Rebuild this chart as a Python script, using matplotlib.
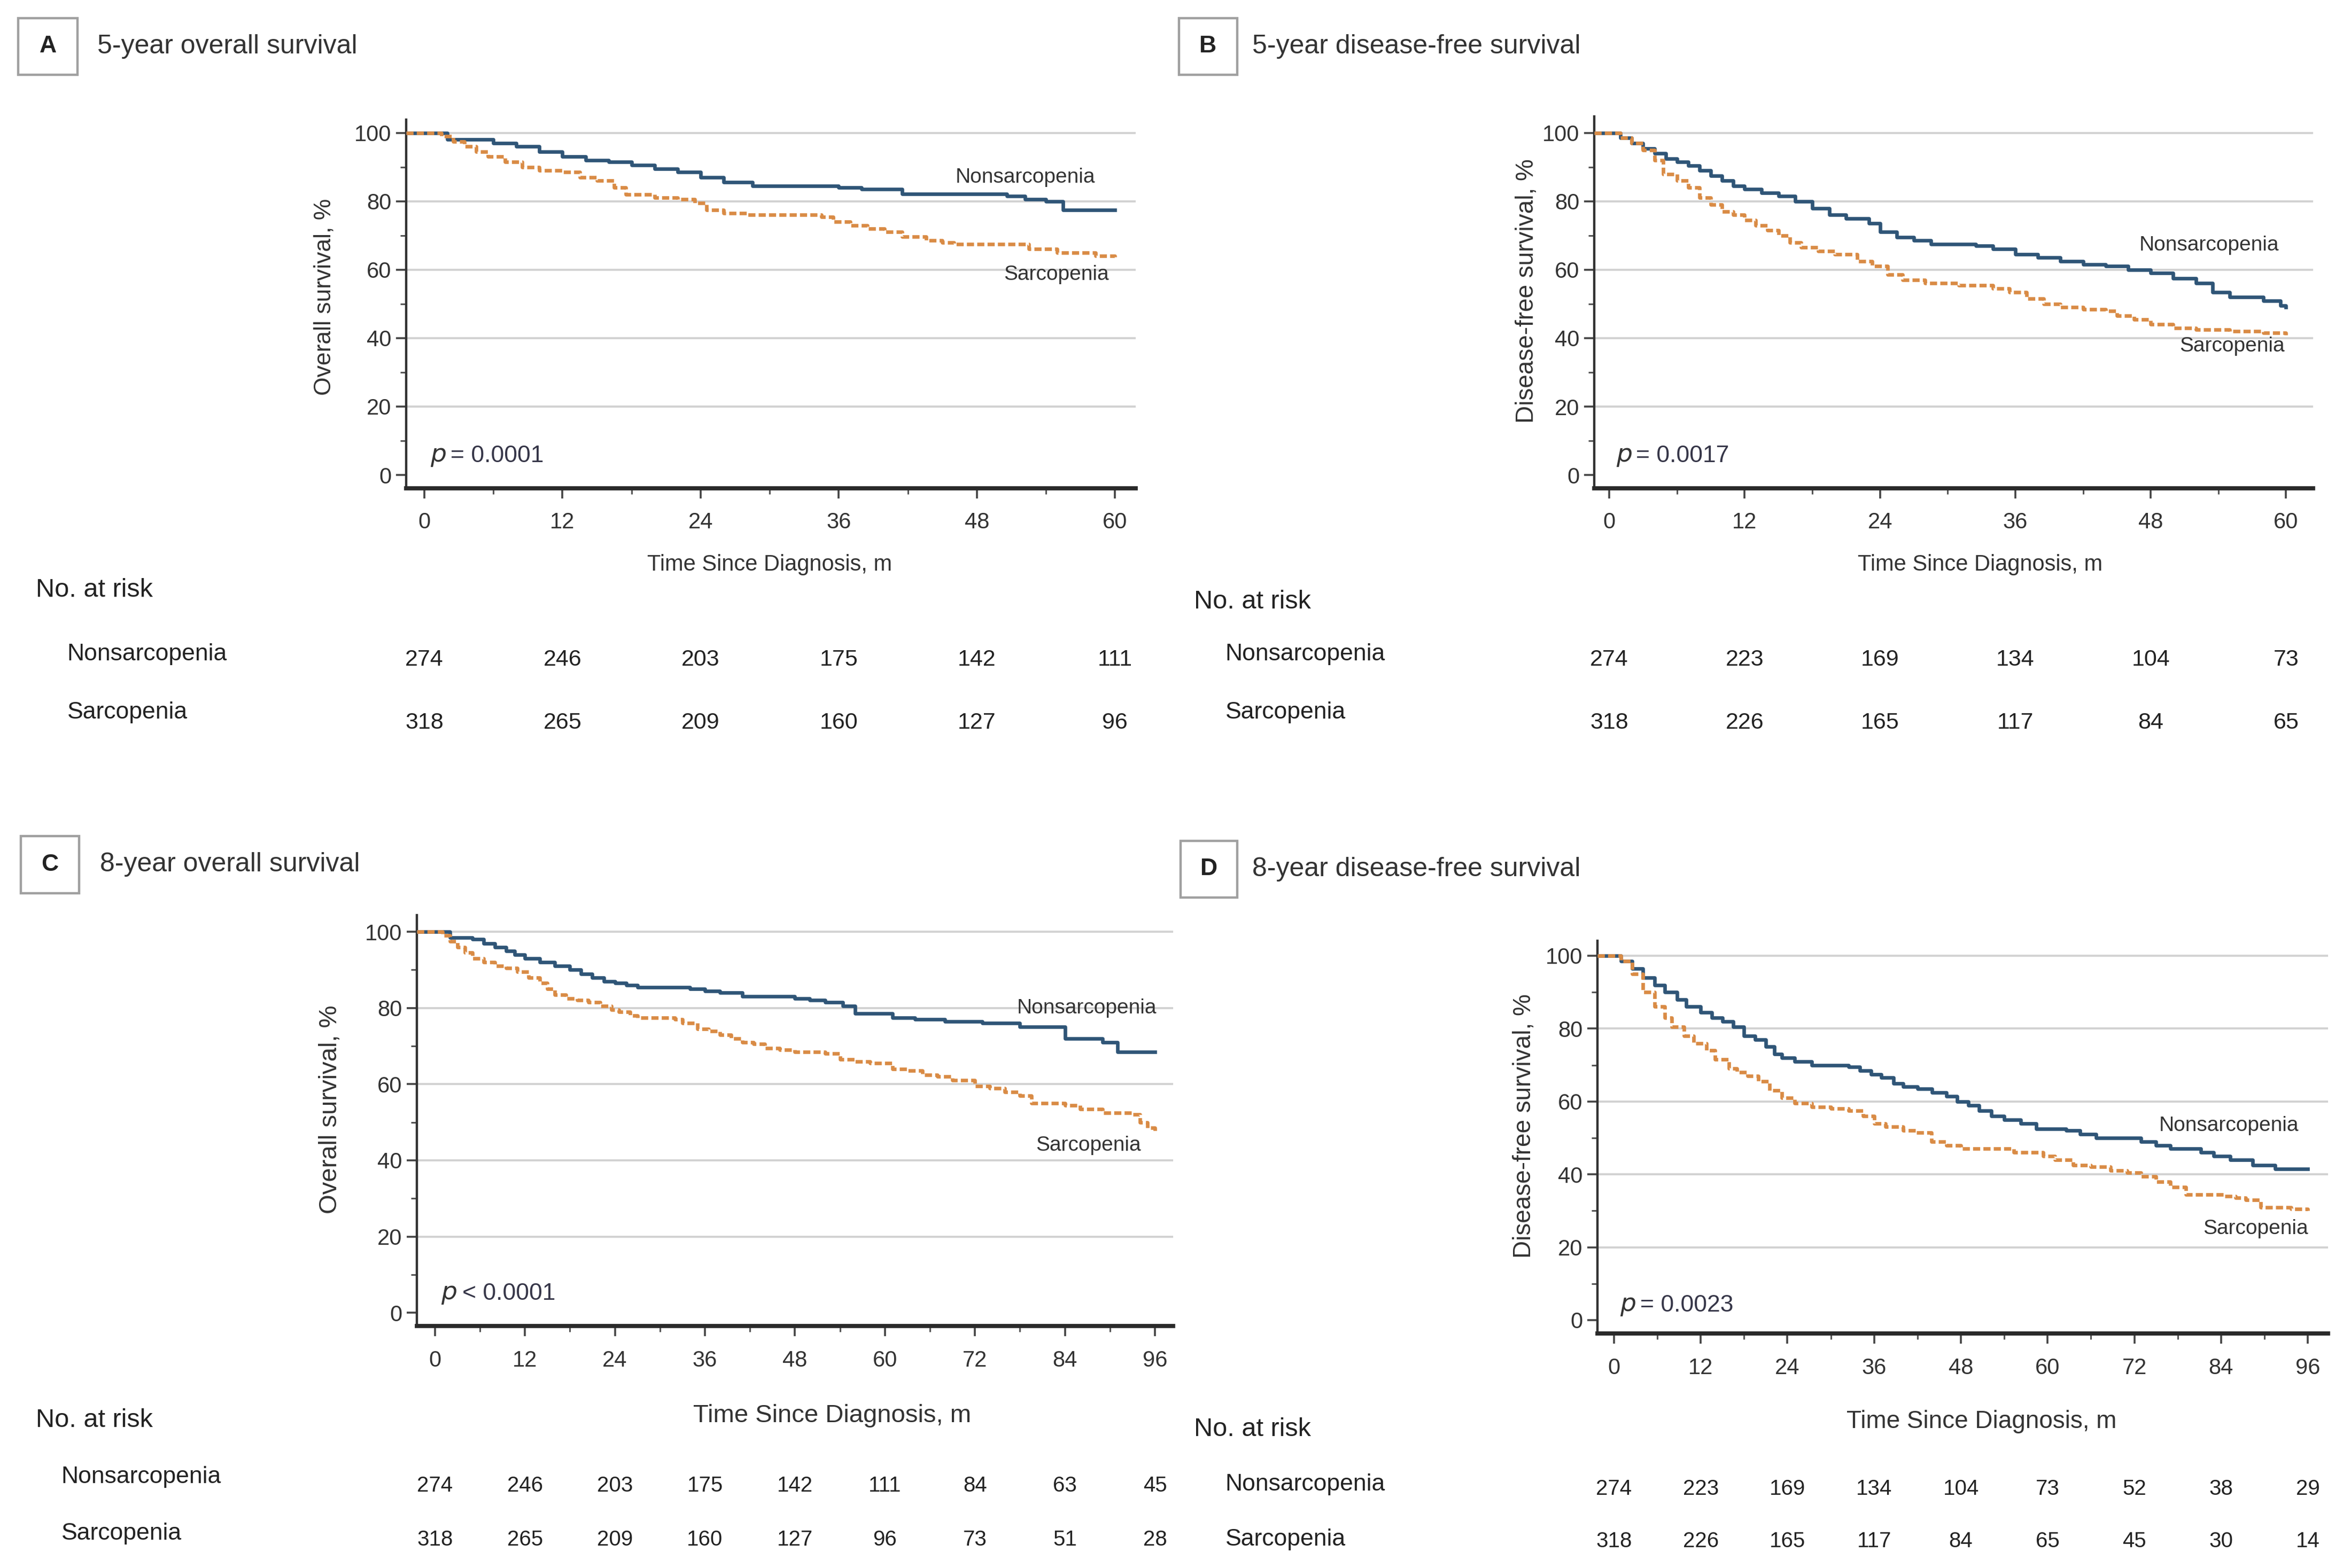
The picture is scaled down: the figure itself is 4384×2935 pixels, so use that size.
import matplotlib
matplotlib.use("Agg")
import matplotlib.pyplot as plt
from matplotlib.patches import Rectangle
from matplotlib.ticker import MultipleLocator
from matplotlib.transforms import blended_transform_factory

plt.rcParams['font.family'] = ['Liberation Sans', 'DejaVu Sans']

# ---- data (time in months, survival in %) ----
groups = ['Nonsarcopenia', 'Sarcopenia']

# A: 5-year overall survival
a_non_t = [0, 2, 4.3, 6, 8, 10, 12, 14, 16, 18, 20, 22, 24, 26, 28.5, 36, 38, 41.5, 50.6, 52.2, 54, 55.5, 60]
a_non_s = [100, 98, 98, 97, 96, 94.5, 93, 92, 91.5, 90.5, 89.5, 88.5, 87, 85.5, 84.5, 84, 83.5, 82.2, 81.5, 80.6, 80, 77.5, 77.5]
a_sar_t = [0, 1.5, 2.5, 3.5, 4.5, 5.5, 7, 8.5, 10, 12, 13.5, 15, 16.5, 17.5, 20, 22, 23.5, 24.5, 26, 28, 34.5,
           35.5, 37, 38.5, 40, 41.5, 43.6, 45, 46, 52.5, 55, 58.3, 60]
a_sar_s = [100, 99, 97.5, 96, 94.5, 93, 91.5, 90, 89, 88.5, 87, 86, 84, 82, 81, 80.5, 79.5, 77.5, 76.5, 76, 75.5,
           74, 73, 72, 71, 69.7, 68.6, 68, 67.5, 66, 65, 64, 63.7]
a_risk_non = [274, 246, 203, 175, 142, 111]
a_risk_sar = [318, 265, 209, 160, 127, 96]

# B: 5-year disease-free survival
b_non_t = [0, 1, 2, 3, 4, 5, 6, 7, 8, 9, 10, 11, 12, 13.5, 15, 16.5, 18, 19.5, 21, 23, 24, 25.5, 27, 28.5, 32.5,
           34, 36, 38, 40, 42, 44, 46, 48, 50, 52, 53.5, 55, 58, 59.5, 60]
b_non_s = [100, 98.5, 97, 95.5, 94, 92.5, 91.5, 90.5, 89, 87.5, 86, 84.5, 83.5, 82.5, 81.5, 80, 78, 76, 75, 73.5,
           71, 69.5, 68.5, 67.5, 67, 66, 64.5, 63.5, 62.5, 61.5, 61, 60, 59, 57.5, 56, 53.5, 52, 51, 49.5, 49]
b_sar_t = [0, 1, 2, 3, 4, 4.8, 6, 7, 8, 9, 10, 11, 12, 13, 14, 15, 16, 17, 18.5, 20, 22, 23.3, 24.7, 26, 28, 31,
           34, 35.5, 37, 38.5, 40, 42, 44, 45, 46.5, 48, 50, 52, 55, 58, 60]
b_sar_s = [100, 98.5, 97, 95, 92, 88, 86, 84, 81, 79, 77, 76, 74.5, 73, 71.5, 70, 68, 66.5, 65.5, 64.5, 62.5, 61,
           58.5, 57, 56, 55.5, 54.5, 53.5, 51.5, 50, 49, 48.5, 48, 46.5, 45.5, 44, 43, 42.5, 42, 41.5, 41]
b_risk_non = [274, 223, 169, 134, 104, 73]
b_risk_sar = [318, 226, 165, 117, 84, 65]

# C: 8-year overall survival
c_non_t = [0, 2, 5, 6.5, 8, 9.5, 10.6, 12, 14, 16, 18, 19.5, 21, 22.5, 24, 25.5, 27, 34, 36, 38, 41, 48, 50, 52,
           54.4, 56, 61, 64, 68, 73, 78, 84, 89, 91, 96]
c_non_s = [100, 98.5, 98, 97, 96, 95, 94, 93, 92, 91, 90, 89, 88, 87, 86.5, 86, 85.5, 85, 84.5, 84, 83, 82.5, 82,
           81.5, 80.5, 78.5, 77.5, 77, 76.5, 76, 75, 72, 71, 68.4, 68.4]
c_sar_t = [0, 1, 2, 3, 4, 5, 6.5, 8, 9.5, 11, 12.5, 14, 15, 16, 17.5, 19, 20.5, 22, 23.5, 24.5, 26, 27, 32, 33, 35,
           36.5, 38, 39.5, 41, 42.5, 44, 46, 48, 52, 54, 56, 58, 61, 63, 65, 67, 69, 72, 74, 76, 78, 79.5, 84,
           86, 89, 93, 94, 95, 96]
c_sar_s = [100, 99, 97.5, 96, 94.5, 93, 92, 91, 90.5, 89.5, 88, 86.5, 85, 83.5, 82.5, 82, 81.5, 80.5, 79.5, 79, 78,
           77.5, 77, 76, 74.5, 74, 73, 72, 71, 70.5, 69.5, 69, 68.5, 68, 66.5, 66, 65.5, 64, 63.5, 62.5, 62, 61,
           59.5, 59, 58, 57, 55, 54.5, 53.5, 52.5, 52, 50, 48.5, 47]
c_risk_non = [274, 246, 203, 175, 142, 111, 84, 63, 45]
c_risk_sar = [318, 265, 209, 160, 127, 96, 73, 51, 28]

# D: 8-year disease-free survival
d_non_t = [0, 1, 2.5, 4, 5.6, 7, 8.7, 10, 12, 13.5, 15, 16.5, 18, 19.5, 21, 22.2, 23.2, 25, 27.4, 32.5, 34, 35.6,
           37, 38.7, 40, 42, 44, 46, 47.5, 49, 50.5, 52.2, 54, 56.3, 58.4, 62.6, 64.5, 66.7, 72.9, 75, 77, 81.2,
           83, 85.3, 88.4, 91.5, 96]
d_non_s = [100, 98.5, 96.5, 94, 92, 90, 88, 86, 84.5, 83, 82, 80.5, 78, 77, 75, 73, 72, 71, 70, 69.5, 68.5, 67.5,
           66.5, 65, 64, 63.5, 62.5, 61.5, 60, 59, 57.5, 56, 55, 54, 52.5, 52, 51, 50, 49, 48, 47, 46, 45, 44,
           42.5, 41.5, 41.5]
d_sar_t = [0, 1, 2.5, 4, 5.6, 7, 8, 9.7, 11, 12.8, 14, 15.9, 17, 18.5, 20, 21.5, 23.2, 25, 27.4, 30, 32.5, 34.5,
           36, 37.6, 40, 41.8, 43.9, 46, 48, 55.3, 57, 59.4, 61, 63.5, 66, 68.7, 71, 72.9, 75, 77, 79.1, 84.3,
           86, 87.4, 89.5, 93.7, 96]
d_sar_s = [100, 98.5, 95, 90, 86, 83, 80.5, 78, 76, 74, 71.5, 69, 68, 67, 65.5, 63, 61, 59.5, 58.5, 58, 57.5, 56,
           54, 53, 52, 51.5, 49, 48, 47, 46, 46, 45, 44, 42.5, 42, 41, 40.5, 39.5, 38, 36.5, 34.5, 34, 33.5,
           33, 31, 30.5, 30]
d_risk_non = [274, 223, 169, 134, 104, 73, 52, 38, 29]
d_risk_sar = [318, 226, 165, 117, 84, 65, 45, 30, 14]

# ---- layout (in units of a 1568 x 1050 sketch of the page) ----
W, H = 1568.0, 1050.0
BLUE = '#2f5577'
ORANGE = '#d98b45'
TXT = '#333333'

fig = plt.figure(figsize=(21.92, 14.675), dpi=200)


def fx(px):
    return px / W


def fy(py):
    return 1 - py / H


panels = [
    dict(letter='A', title='5-year overall survival', box=(12, 12, 52, 50), title_xy=(65, 31),
         ax_px=(272, 80, 760, 327), xlim=(-1.56, 61.8), ylim=(-3.9, 103.9), xmax=60,
         ylabel='Overall survival, %', ylab_xy=(217, 199), ylab_size=16,
         xlab_xy=(515, 378), xlab_size=15, head_xy=(24, 395), lab_x=45, lab_y=(438, 477),
         num_y=(442, 484), num_size=15.5, p='= 0.0001', p_xy=(0.5, 5.5),
         non_xy=(52.2, 86.9), sar_xy=(54.9, 58.5),
         data=(a_non_t, a_non_s, a_sar_t, a_sar_s, a_risk_non, a_risk_sar)),
    dict(letter='B', title='5-year disease-free survival', box=(789, 12, 828, 50), title_xy=(838, 31),
         ax_px=(1067, 78, 1548, 327), xlim=(-1.32, 62.4), ylim=(-3.9, 104.8), xmax=60,
         ylabel='Disease-free survival, %', ylab_xy=(1022, 195), ylab_size=16.5,
         xlab_xy=(1325, 378), xlab_size=15, head_xy=(799, 403), lab_x=820, lab_y=(438, 477),
         num_y=(442, 484), num_size=15.5, p='= 0.0017', p_xy=(0.6, 5.5),
         non_xy=(53.2, 67.2), sar_xy=(55.2, 37.6),
         data=(b_non_t, b_non_s, b_sar_t, b_sar_s, b_risk_non, b_risk_sar)),
    dict(letter='C', title='8-year overall survival', box=(14, 560, 53, 598), title_xy=(67, 579),
         ax_px=(279, 613, 785, 888), xlim=(-2.4, 98.4), ylim=(-3.5, 104.3), xmax=96,
         ylabel='Overall survival, %', ylab_xy=(221, 743), ylab_size=17,
         xlab_xy=(557, 948), xlab_size=17, head_xy=(24, 951), lab_x=41, lab_y=(989, 1027),
         num_y=(995, 1031), num_size=14.5, p='< 0.0001', p_xy=(0.8, 5),
         non_xy=(86.9, 80.0), sar_xy=(87.1, 43.9),
         data=(c_non_t, c_non_s, c_sar_t, c_sar_s, c_risk_non, c_risk_sar)),
    dict(letter='D', title='8-year disease-free survival', box=(790, 563, 828, 601), title_xy=(838, 582),
         ax_px=(1069, 630, 1558, 893), xlim=(-2.3, 98.8), ylim=(-3.7, 104.1), xmax=96,
         ylabel='Disease-free survival, %', ylab_xy=(1020, 754), ylab_size=16.5,
         xlab_xy=(1326, 952), xlab_size=16.5, head_xy=(799, 957), lab_x=820, lab_y=(994, 1031),
         num_y=(997, 1032), num_size=14.5, p='= 0.0023', p_xy=(0.8, 4),
         non_xy=(85.1, 53.3), sar_xy=(88.8, 25.0),
         data=(d_non_t, d_non_s, d_sar_t, d_sar_s, d_risk_non, d_risk_sar)),
]

for pn in panels:
    non_t, non_s, sar_t, sar_s, risk_non, risk_sar = pn['data']
    x0, y0, x1, y1 = pn['ax_px']
    ax = fig.add_axes([fx(x0), fy(y1), (x1 - x0) / W, (y1 - y0) / H])

    # letter box and panel title
    bx0, by0, bx1, by1 = pn['box']
    fig.patches.append(Rectangle((fx(bx0), fy(by1)), (bx1 - bx0) / W, (by1 - by0) / H,
                                 transform=fig.transFigure, fill=False, edgecolor='#a0a0a0', lw=1.6))
    fig.text(fx((bx0 + bx1) / 2), fy((by0 + by1) / 2), pn['letter'], ha='center', va='center',
             fontsize=16, fontweight='bold', color='#222222')
    fig.text(fx(pn['title_xy'][0]), fy(pn['title_xy'][1]), pn['title'], ha='left', va='center',
             fontsize=18, color=TXT)

    # grid at 20..100
    for g in [20, 40, 60, 80, 100]:
        ax.axhline(g, color='#d2d2d2', lw=1.4, zorder=1)

    # step curves, start drawn from the axis edge
    xs = pn['xlim'][0]
    ax.step([xs] + non_t, [non_s[0]] + non_s, where='post', color=BLUE, lw=2.4, zorder=3)
    ax.step([xs] + sar_t, [sar_s[0]] + sar_s, where='post', color=ORANGE, lw=2.4,
            linestyle=(0, (2.0, 0.9)), zorder=3)

    ax.set_xlim(*pn['xlim'])
    ax.set_ylim(*pn['ylim'])
    xt = list(range(0, pn['xmax'] + 1, 12))
    ax.set_xticks(xt)
    ax.set_yticks([0, 20, 40, 60, 80, 100])
    ax.xaxis.set_minor_locator(MultipleLocator(6))
    ax.yaxis.set_minor_locator(MultipleLocator(10))
    ax.tick_params(axis='both', which='major', labelsize=15, colors='#444444', labelcolor=TXT,
                   length=7, width=1.3)
    ax.tick_params(axis='x', which='major', pad=9)
    ax.tick_params(axis='y', which='major', pad=3)
    ax.tick_params(axis='both', which='minor', length=4, width=1.1, colors='#555555')
    ax.set_xticks([m for m in range(6, pn['xmax'], 12)], minor=True)
    for s in ['top', 'right']:
        ax.spines[s].set_visible(False)
    ax.spines['left'].set_color('#333333')
    ax.spines['left'].set_linewidth(1.6)
    ax.spines['bottom'].set_color('#2a2a2a')
    ax.spines['bottom'].set_linewidth(2.8)

    # axis titles
    fig.text(fx(pn['xlab_xy'][0]), fy(pn['xlab_xy'][1]), 'Time Since Diagnosis, m', ha='center',
             va='center', fontsize=pn['xlab_size'], color=TXT)
    fig.text(fx(pn['ylab_xy'][0]), fy(pn['ylab_xy'][1]), pn['ylabel'], ha='center', va='center',
             rotation=90, fontsize=pn['ylab_size'], color=TXT)

    # p value and curve labels
    ax.text(pn['p_xy'][0], pn['p_xy'][1], '$p$', fontsize=17, color=TXT, ha='left', va='center')
    ax.text(pn['p_xy'][0] + (pn['xlim'][1] - pn['xlim'][0]) * 0.028, pn['p_xy'][1], pn['p'],
            fontsize=16, color='#363648', ha='left', va='center')
    ax.text(pn['non_xy'][0], pn['non_xy'][1], groups[0], fontsize=14, color=TXT, ha='center', va='center')
    ax.text(pn['sar_xy'][0], pn['sar_xy'][1], groups[1], fontsize=14, color=TXT, ha='center', va='center')

    # number at risk table
    fig.text(fx(pn['head_xy'][0]), fy(pn['head_xy'][1]), 'No. at risk', ha='left', va='center',
             fontsize=17.5, color='#222222')
    for name, yy in zip(groups, pn['lab_y']):
        fig.text(fx(pn['lab_x']), fy(yy), name, ha='left', va='center', fontsize=16, color='#222222')
    tr = blended_transform_factory(ax.transData, fig.transFigure)
    for row, yy in zip([risk_non, risk_sar], pn['num_y']):
        for t, n in zip(xt, row):
            fig.text(t, fy(yy), str(n), transform=tr, ha='center', va='center',
                     fontsize=pn['num_size'], color='#222222')

fig.savefig('out.png', dpi=200, facecolor='white')
